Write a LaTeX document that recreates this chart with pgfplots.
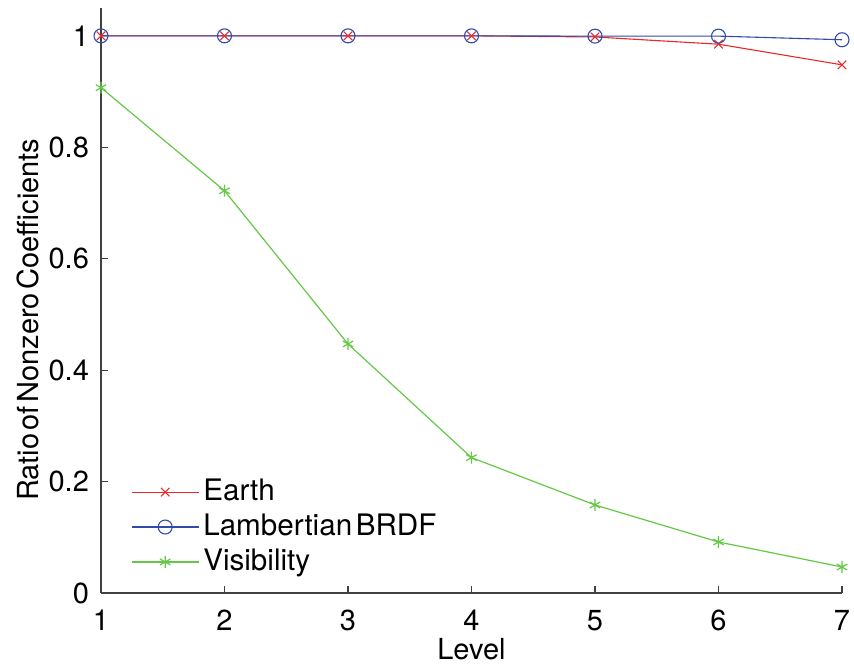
\documentclass[border=0pt]{standalone}
\usepackage{fontspec}
\setmainfont{TeX Gyre Heros}
\usepackage{pgfplots}
\pgfplotsset{compat=1.18}
\definecolor{cred}{RGB}{235,40,40}
\definecolor{cblue}{RGB}{50,75,170}
\definecolor{cgreen}{RGB}{100,200,70}
\begin{document}
\fontsize{14.5pt}{17pt}\selectfont
\begin{tikzpicture}
\begin{axis}[
  width=370.5pt, height=292.5pt, scale only axis,
  xmin=1, xmax=7, ymin=0, ymax=1.05,
  axis x line*=bottom, axis y line*=left,
  axis line style={black!75, line width=0.6pt},
  tick style={black!75, line width=0.6pt},
  tick align=inside, major tick length=3.5pt,
  xtick={1,...,7}, ytick={0,0.2,0.4,0.6,0.8,1},
  /pgf/number format/assume math mode=true,
  tick label style={font=\fontsize{14.5pt}{17pt}\selectfont},
  xticklabel style={inner sep=0pt, yshift=-8.3pt},
  yticklabel style={xshift=-1pt},
  xlabel={Level}, ylabel={Ratio\hspace{0.12em}of\hspace{0.12em}Nonzero\hspace{0.12em}Coefficients},
  label style={font=\fontsize{14.5pt}{17pt}\selectfont},
  every axis x label/.style={at={(axis description cs:0.5,-0.096)},anchor=center,inner sep=0pt},
  every axis y label/.style={at={(axis description cs:-0.0985,0.467)},rotate=90,anchor=center},
  legend style={draw=none, fill=none, at={(axis description cs:0.032,0.209)}, anchor=north west,
    font=\fontsize{14.8pt}{17pt}\selectfont, row sep=0.5pt},
  legend cell align=left,
  legend image code/.code={\draw[mark repeat=2,mark phase=2] plot coordinates {(0pt,0pt)(16.75pt,0pt)(33.5pt,0pt)};},
  clip=false,
]
\addplot[cred, line width=0.55pt, mark=x, mark size=3pt] coordinates {
(1,1.0)(2,1.0)(3,1.0)(4,1.0)(5,0.998)(6,0.985)(7,0.948)};
\addlegendentry{Earth}
\addplot[cblue, line width=0.55pt, mark=o, mark size=3.5pt] coordinates {
(1,1.0)(2,1.0)(3,1.0)(4,1.0)(5,0.9995)(6,0.9995)(7,0.993)};
\addlegendentry{Lambertian\hspace{0.12em}BRDF}
\addplot[cgreen, line width=0.6pt, mark=asterisk, mark size=3pt] coordinates {
(1,0.907)(2,0.722)(3,0.447)(4,0.243)(5,0.158)(6,0.0916)(7,0.0467)};
\addlegendentry{Visibility}
\coordinate (bl) at (rel axis cs:0,0);
\coordinate (tr) at (rel axis cs:1,1);
\end{axis}
\pgfresetboundingbox
\path (bl) ++(-50.5pt,-37.5pt) coordinate (A);
\path (tr) ++(6pt,4pt) coordinate (B);
\path[use as bounding box] (A) rectangle (B);
\end{tikzpicture}
\end{document}
